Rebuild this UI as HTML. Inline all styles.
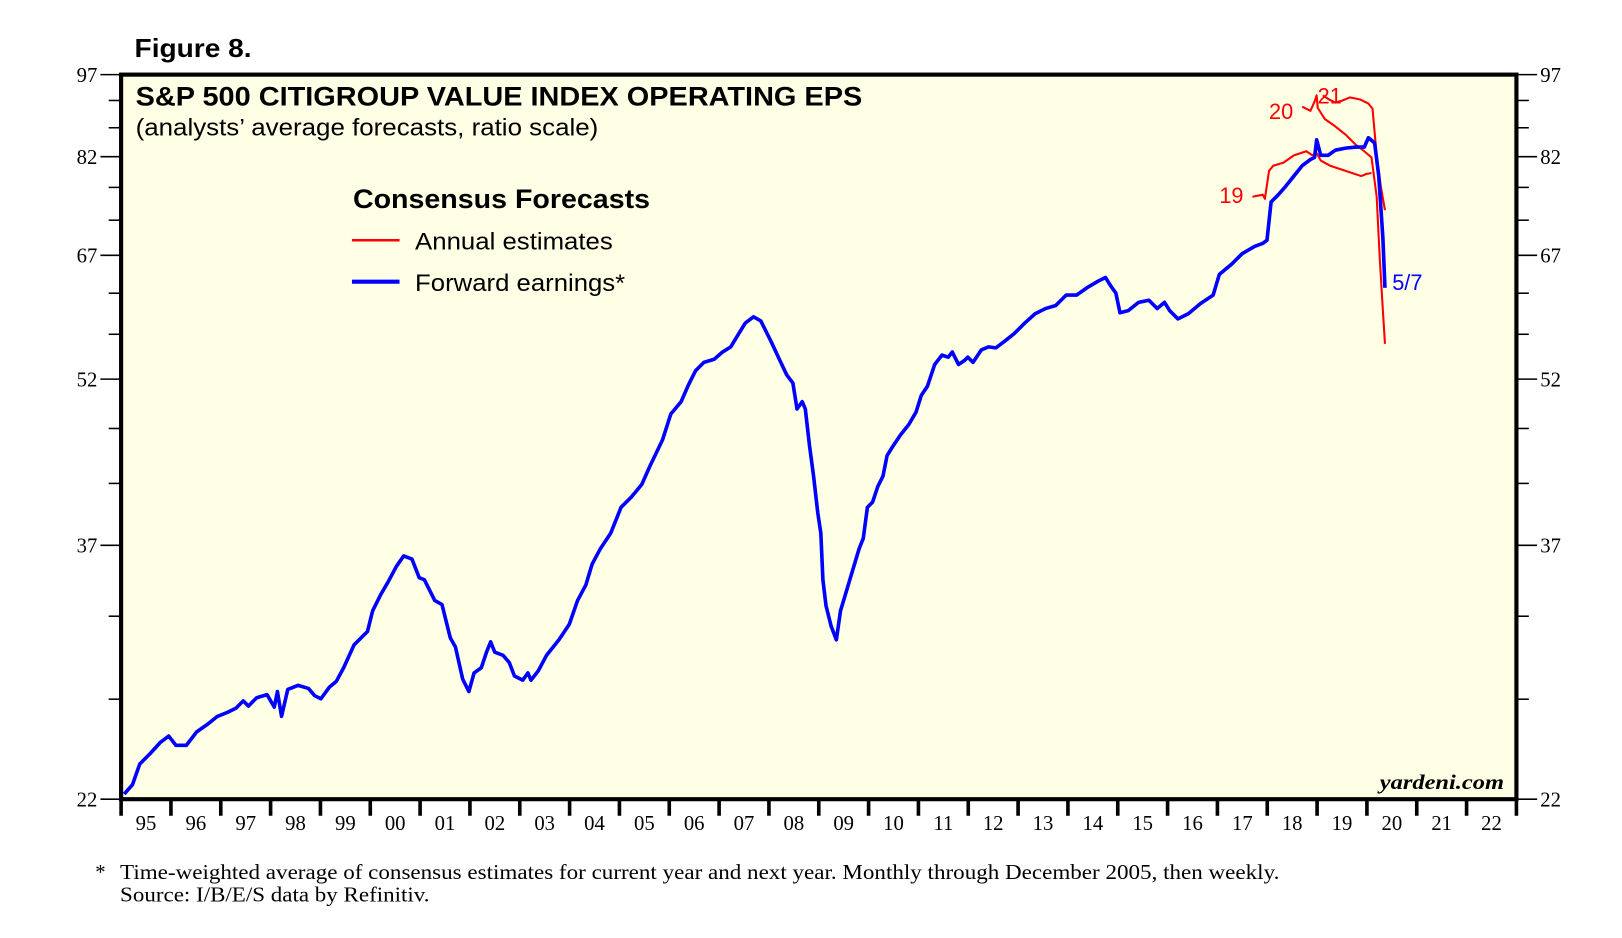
<!DOCTYPE html>
<html><head><meta charset="utf-8"><style>
html,body{margin:0;padding:0;background:#fff;}
svg{display:block;}
.sv{font-family:"Liberation Sans",sans-serif;}
.sf{font-family:"Liberation Serif",serif;}
</style></head><body>
<svg width="1622" height="938" viewBox="0 0 1567 906" xmlns="http://www.w3.org/2000/svg">
<rect x="0" y="0" width="1567" height="906" fill="#fff"/>
<text x="130" y="55" class="sv" font-size="25" font-weight="bold" textLength="113" lengthAdjust="spacingAndGlyphs">Figure 8.</text>
<rect x="117" y="72" width="1348" height="700" fill="#ffffe6" stroke="#000" stroke-width="4"/>
<text x="131" y="102" class="sv" font-size="26" font-weight="bold" textLength="702" lengthAdjust="spacingAndGlyphs">S&amp;P 500 CITIGROUP VALUE INDEX OPERATING EPS</text>
<text x="131" y="131" class="sv" font-size="23" textLength="447" lengthAdjust="spacingAndGlyphs">(analysts’ average forecasts, ratio scale)</text>
<text x="341" y="201" class="sv" font-size="26" font-weight="bold" textLength="287" lengthAdjust="spacingAndGlyphs">Consensus Forecasts</text>
<line x1="340" y1="232" x2="386" y2="232" stroke="#f00" stroke-width="2.5"/>
<line x1="340" y1="272" x2="386" y2="272" stroke="#00f" stroke-width="4"/>
<text x="401" y="241" class="sv" font-size="23" textLength="191" lengthAdjust="spacingAndGlyphs">Annual estimates</text>
<text x="401" y="281" class="sv" font-size="23" textLength="203" lengthAdjust="spacingAndGlyphs">Forward earnings*</text>
<g id="yt" class="sf" font-size="20"></g>
<g id="xt" class="sf" font-size="20"></g>
<text x="1333" y="762" class="sf" font-size="20" font-weight="bold" font-style="italic" textLength="120" lengthAdjust="spacingAndGlyphs">yardeni.com</text>
<g fill="none" stroke="#f00" stroke-width="2" stroke-linejoin="round">
<polyline points="1210,190 1220,188 1222,192 1226,165 1230,160 1240,157 1250,150 1262,146 1268,150 1272,148 1276,155 1285,160 1300,165 1315,170 1320,168 1325,167"/>
<polyline points="1258,103 1266,107 1270,98 1272,92 1273,104 1280,115 1290,122 1300,130 1310,140 1318,146 1325,152 1330,190 1333,250 1336,300 1338,332"/>
<polyline points="1278,92 1284,96 1290,99 1297,97 1304,94 1314,96 1322,100 1326,105 1330,150 1334,180 1338,203"/>
</g>
<polyline fill="none" stroke="#00f" stroke-width="3.5" stroke-linejoin="round" points="120,767 128,758 135,738 145,728 155,717 163,711 170,720 180,720 190,707 200,700 210,692 220,688 228,684 235,677 240,682 248,674 258,671 265,683 268,668 272,692 278,666 288,662 298,665 304,672 310,675 318,664 325,658 332,645 342,623 355,610 360,590 368,574 375,562 383,547 390,537 398,540 405,558 410,560 420,580 427,584 435,616 440,625 447,656 453,668 458,650 465,645 470,630 474,620 478,630 486,633 492,640 497,653 505,657 510,650 513,657 520,648 528,633 540,618 550,603 558,580 566,565 572,545 580,530 590,515 600,490 610,480 620,468 628,450 640,425 648,400 658,388 665,372 672,358 680,350 690,347 698,340 706,335 712,325 720,312 728,306 735,310 745,330 752,345 760,362 766,370 770,395 775,388 778,395 782,430 786,460 790,495 793,515 795,560 798,585 803,605 808,618 812,590 818,570 824,550 830,530 834,520 838,490 843,485 848,470 853,460 857,440 862,432 870,420 878,410 885,398 890,382 896,373 903,352 910,343 916,345 920,340 926,352 932,348 935,345 940,350 948,338 955,335 962,336 970,330 980,322 990,312 1000,303 1010,298 1020,295 1030,285 1040,285 1050,278 1060,272 1068,268 1073,276 1078,283 1082,302 1090,300 1100,292 1110,290 1118,298 1125,292 1130,300 1138,308 1148,303 1160,293 1172,285 1178,265 1190,255 1200,245 1212,238 1220,235 1224,232 1228,195 1235,188 1242,180 1250,170 1258,160 1266,154 1270,152 1272,135 1276,150 1283,150 1290,145 1300,143 1310,142 1318,142 1322,133 1328,138 1332,170 1336,230 1338,278"/>
<g class="sv" font-size="21">
<text x="1178" y="196" fill="#f00">19</text>
<text x="1226" y="115" fill="#f00">20</text>
<text x="1273" y="100" fill="#f00">21</text>
<text x="1345" y="280" fill="#00f">5/7</text>
</g>
<text x="92" y="849" class="sf" font-size="20">*</text>
<text x="116" y="849" class="sf" font-size="20" textLength="1120" lengthAdjust="spacingAndGlyphs">Time-weighted average of consensus estimates for current year and next year. Monthly through December 2005, then weekly.</text>
<text x="116" y="871" class="sf" font-size="20" textLength="299" lengthAdjust="spacingAndGlyphs">Source: I/B/E/S data by Refinitiv.</text>
<script>
var ns="http://www.w3.org/2000/svg";
function el(p,t,a,txt){var e=document.createElementNS(ns,t);for(var k in a)e.setAttribute(k,a[k]);if(txt!=null)e.textContent=txt;p.appendChild(e);return e;}
var yt=document.getElementById('yt');
function Y(v){return 72+700*Math.log(97/v)/Math.log(97/22);}
for(var v=22;v<=97;v+=5){var y=Y(v);var maj=(v-22)%15==0;
 el(yt,'line',{x1:maj?97:105,y1:y,x2:117,y2:y,stroke:'#000','stroke-width':1.5});
 el(yt,'line',{x1:1465,y1:y,x2:maj?1485:1477,y2:y,stroke:'#000','stroke-width':1.5});
 if(maj){el(yt,'text',{x:94,y:y+7,'text-anchor':'end'},String(v));el(yt,'text',{x:1488,y:y+7},String(v));}}
var xt=document.getElementById('xt');var w=1348/28;
for(var i=0;i<=28;i++){var x=117+i*w;el(xt,'line',{x1:x,y1:772,x2:x,y2:788,stroke:'#000','stroke-width':3.5});
 if(i<28){var yr=(95+i)%100;el(xt,'text',{x:x+w/2,y:802,'text-anchor':'middle'},(yr<10?'0':'')+yr);}}
</script>
</svg>
</body></html>
